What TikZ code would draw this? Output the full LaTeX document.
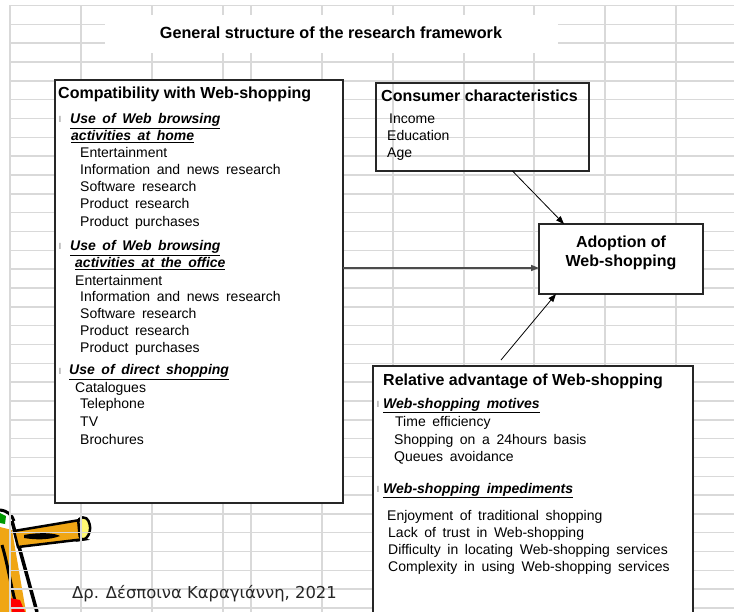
\documentclass[tikz,border=0pt]{standalone}
\usepackage{fontspec}
\setmainfont{Liberation Sans}
\newfontfamily\listfont{Liberation Sans}[WordSpace=1.7]
\newfontfamily\greekfont{DejaVu Sans}
\usetikzlibrary{arrows.meta}
\definecolor{pencilgold}{RGB}{240,166,20}

\tikzset{
  sheetline/.style={draw=gray!30, line width=1.5pt},
  frame/.style={draw=black!85, line width=1.1pt, outer sep=0pt, inner sep=0pt},
  titletext/.style={font=\fontsize{16.2}{19}\selectfont\bfseries, inner sep=0pt},
  head/.style={font=\fontsize{16}{19}\selectfont\bfseries, anchor=base west, inner sep=0pt},
  item/.style={font=\listfont\fontsize{14}{17}\selectfont, anchor=base west, inner sep=0pt},
  topic/.style={font=\listfont\fontsize{14}{17}\selectfont\bfseries\itshape, anchor=base west, inner sep=0pt},
  bulletmark/.style={font=\fontsize{8.5}{9}\selectfont, text=black!60, anchor=base west, inner sep=0pt},
  link/.style={-{Triangle[length=8pt,width=6pt]}, line width=0.8pt}
}

\begin{document}
\begin{tikzpicture}[x=1pt, y=-1pt]
\useasboundingbox (0,0) rectangle (734,612);
\clip (0,0) rectangle (734,612);

% ---- pencil clip art, bottom left ----
\fill[green!60!black] (0,513) -- (6,516) -- (5,524) -- (0,523) -- cycle;
\fill[pencilgold] (0,527) -- (12,530) -- (26,612) -- (0,612) -- cycle;
\draw[line width=3pt] (0,510) .. controls (8,511) and (12,515) .. (14,521);
\draw[line width=3.5pt] (12,521) -- (37,612);
\draw[line width=3pt] (2,545) .. controls (8,565) and (11,588) .. (18,612);
\fill[red] (10,598) -- (20,600) -- (25,612) -- (12,612) -- cycle;
\filldraw[fill=pencilgold, line width=2.5pt] (14,531) -- (80,520) -- (85,539) -- (18,547) -- cycle;
\filldraw[fill=yellow!55, line width=2.5pt, rounded corners=4pt]
  (78,518) -- (87,517) -- (91,528) -- (87,539) -- (80,540) -- cycle;
\fill (24,535) .. controls (40,532) and (55,533) .. (60,536)
  .. controls (50,540) and (35,540) .. (24,538) -- cycle;

% ---- spreadsheet grid ----
\foreach \k in {0,...,32}{
  \draw[sheetline] (10,{5.5+18.83*\k}) -- (734,{5.5+18.83*\k});
}
\foreach \x in {10,81,152,223,251,322,393,464,534,605,676}{
  \draw[sheetline] (\x,5.5) -- (\x,612);
}

% ---- title ----
\fill[white] (105,15) rectangle (558,53);
\node[titletext] (title) at (331,33) {General structure of the research framework};

% ---- boxes ----
\node[frame, fill=white, anchor=north west, minimum width=288pt, minimum height=423pt] (compat) at (55,80) {};
\node[frame, anchor=north west, minimum width=213pt, minimum height=88pt] (cons) at (376,83) {};
\node[frame, fill=white, anchor=north west, minimum width=164pt, minimum height=70pt] (adopt) at (539,224) {};
\node[frame, fill=white, anchor=north west, minimum width=320pt, minimum height=274pt] (rel) at (373,366) {};

% ---- compatibility ----
\node[head] (compat-h) at (58,99) {Compatibility with Web-shopping};
\node[bulletmark] (cb1) at (59,123) {l};
\node[topic] (home-a) at (70,124) {\underline{Use of Web browsing}};
\node[topic] (home-b) at (71,141) {\underline{activities at home}};
\foreach \y/\t [count=\i] in {158/Entertainment, 175/Information and news research,
    192/Software research, 209/Product research, 227/Product purchases}{
  \node[item] (home-\i) at (80,\y) {\t};
}
\node[bulletmark] (cb2) at (59,250) {l};
\node[topic] (office-a) at (70,251) {\underline{Use of Web browsing}};
\node[topic] (office-b) at (75,268) {\underline{activities at the office}};
\foreach \y/\x/\t [count=\i] in {286/75/Entertainment, 302/80/Information and news research,
    319/80/Software research, 336/80/Product research, 353/80/Product purchases}{
  \node[item] (office-\i) at (\x,\y) {\t};
}
\node[bulletmark] (cb3) at (59,374) {l};
\node[topic] (direct-a) at (69,375) {\underline{Use of direct shopping}};
\foreach \y/\x/\t [count=\i] in {392/75/Catalogues, 409/80/Telephone,
    427/80/TV, 444/80/Brochures}{
  \node[item] (direct-\i) at (\x,\y) {\t};
}

% ---- consumer ----
\node[head] (cons-h) at (381,102) {Consumer characteristics};
\node[item] (cons-1) at (389,124) {Income};
\node[item] (cons-2) at (387,141) {Education};
\node[item] (cons-3) at (387,158) {Age};

% ---- adoption ----
\node[font=\fontsize{16}{19}\selectfont\bfseries, align=center, inner sep=0pt] (adopt-t) at (621,253)
  {Adoption of\\Web-shopping};

% ---- relative advantage ----
\node[head] (rel-h) at (383,385) {Relative advantage of Web-shopping};
\node[bulletmark] (rb1) at (377,407) {l};
\node[topic] (mot) at (383,408) {\underline{Web-shopping motives}};
\foreach \y/\x/\t [count=\i] in {427/395/Time efficiency, 444/394/Shopping on a 24hours basis,
    461/394/Queues avoidance}{
  \node[item] (mot-\i) at (\x,\y) {\t};
}
\node[bulletmark] (rb2) at (377,492) {l};
\node[topic] (imp) at (383,493) {\underline{Web-shopping impediments}};
\foreach \y/\x/\t [count=\i] in {520/387/Enjoyment of traditional shopping,
    537/388/Lack of trust in Web-shopping,
    554/388/Difficulty in locating Web-shopping services,
    571/388/Complexity in using Web-shopping services}{
  \node[item] (imp-\i) at (\x,\y) {\t};
}

% ---- arrows ----
\draw[link] ([xshift=30pt]cons.south) -- ([xshift=25pt]adopt.north west);
\coordinate (hin) at ([yshift=-9pt]adopt.west);
\draw[link, draw=black!70, line width=1.5pt] (compat.east |- hin) -- (hin);
\draw[link] ([xshift=-32pt,yshift=6pt]rel.north) -- ([xshift=17pt]adopt.south west);

% ---- footer ----
\node[anchor=base west, inner sep=0pt, text=black!85, font=\greekfont\fontsize{16.4}{19}\selectfont]
  (author) at (72,598) {Δρ. Δέσποινα Καραγιάννη, 2021};

\end{tikzpicture}
\end{document}
